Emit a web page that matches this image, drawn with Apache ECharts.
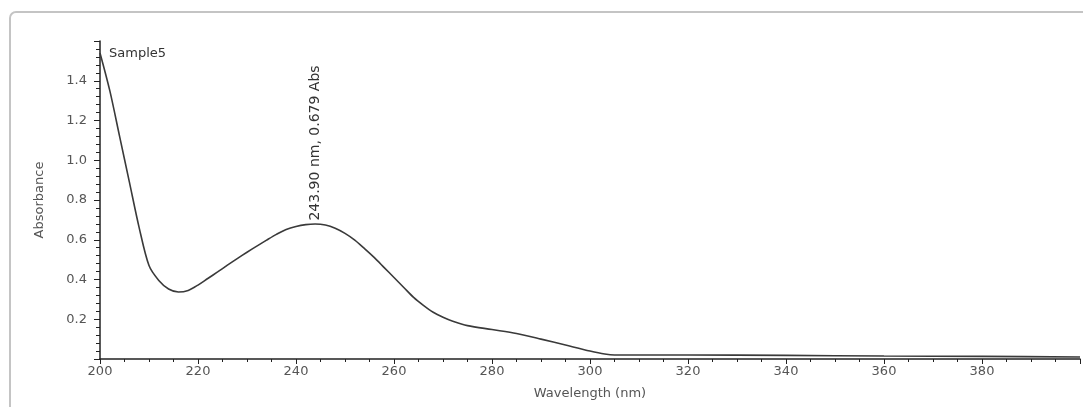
<!DOCTYPE html>
<html>
<head>
<meta charset="utf-8">
<script src="https://cdn.jsdelivr.net/npm/echarts@6/dist/echarts.min.js"></script>
<style>
html, body { margin: 0; padding: 0; background: #fff; }
#main { width: 1083px; height: 407px; }
</style>
</head>
<body>
<div id="main"></div>
<script>
// spectrum (nm, Abs)
var wavelength = [200, 202, 204, 206, 208, 210, 212, 214, 216, 218, 220, 222, 224, 226, 228, 230, 232, 234, 236, 238, 240, 242, 243.9,
    246, 248, 250, 252, 254, 256, 258, 260, 262, 264, 266, 268, 270, 272, 275, 280, 285, 290, 295, 300, 303, 305, 320, 340, 360, 380, 400];
var absorbance = [1.54, 1.35, 1.12, 0.89, 0.66, 0.47, 0.395, 0.352, 0.337, 0.345, 0.372, 0.405, 0.438, 0.472, 0.505, 0.537, 0.568, 0.598, 0.627, 0.652, 0.667, 0.676, 0.679,
    0.674, 0.658, 0.632, 0.598, 0.555, 0.51, 0.46, 0.41, 0.36, 0.31, 0.27, 0.235, 0.21, 0.19, 0.168, 0.148, 0.128, 0.10, 0.07, 0.04, 0.025, 0.02, 0.02, 0.018, 0.015, 0.013, 0.01];
var peak = [243.90, 0.679];
var sampleName = 'Sample5';

var points = [];
for (var i = 0; i < wavelength.length; i++) {
    points.push([wavelength[i], absorbance[i]]);
}

var chart = echarts.init(document.getElementById('main'));
var font = 'DejaVu Sans';
var option = {
    animation: false,
    backgroundColor: '#fff',
    textStyle: { fontFamily: font },
    title: {
        text: sampleName,
        left: 104,
        top: 42,
        textStyle: { fontSize: 13, fontWeight: 'normal', color: '#333', fontFamily: font }
    },
    graphic: [{
        type: 'rect',
        shape: { x: 10, y: 12, width: 1100, height: 430, r: 6 },
        style: { fill: 'none', stroke: '#c4c4c4', lineWidth: 2 },
        z: -1
    }],
    grid: { left: 100, right: 3, top: 41, bottom: 48 },
    xAxis: {
        type: 'value',
        min: 200,
        max: 400,
        interval: 20,
        name: 'Wavelength (nm)',
        nameLocation: 'middle',
        nameGap: 28,
        nameTextStyle: { fontSize: 13, color: '#555', fontFamily: font },
        axisLine: { lineStyle: { color: '#222', width: 1.5 } },
        axisTick: { inside: false, length: 5, lineStyle: { color: '#222' } },
        minorTick: { show: true, splitNumber: 4, length: 3, lineStyle: { color: '#222' } },
        splitLine: { show: false },
        axisLabel: {
            fontSize: 13, color: '#555', margin: 6, fontFamily: font,
            formatter: function (v) { return v >= 400 ? '' : v; }
        }
    },
    yAxis: {
        type: 'value',
        min: 0,
        max: 1.6,
        interval: 0.2,
        name: 'Absorbance',
        nameLocation: 'middle',
        nameGap: 54,
        nameRotate: 90,
        nameTextStyle: { fontSize: 13, color: '#555', fontFamily: font },
        axisLine: { show: true, lineStyle: { color: '#222', width: 1.5 } },
        axisTick: { show: true, length: 6, lineStyle: { color: '#222' } },
        minorTick: { show: true, splitNumber: 5, length: 4, lineStyle: { color: '#222' } },
        splitLine: { show: false },
        axisLabel: {
            fontSize: 13, color: '#555', margin: 13, fontFamily: font,
            formatter: function (v) {
                if (v <= 0 || v > 1.5) return '';
                return v.toFixed(1);
            }
        }
    },
    series: [{
        type: 'line',
        data: points,
        smooth: 0.3,
        showSymbol: false,
        lineStyle: { color: '#3a3a3a', width: 1.6 },
        markPoint: {
            symbol: 'circle',
            symbolSize: 1,
            itemStyle: { color: 'rgba(0,0,0,0)' },
            label: {
                show: true,
                position: 'top',
                distance: 3,
                rotate: 90,
                align: 'left',
                verticalAlign: 'middle',
                fontSize: 14,
                color: '#333',
                fontFamily: font,
                formatter: function (p) {
                    return p.data.coord[0].toFixed(2) + ' nm, ' + p.data.coord[1].toFixed(3) + ' Abs';
                }
            },
            data: [{ coord: peak }]
        }
    }]
};
chart.setOption(option);
</script>
</body>
</html>
